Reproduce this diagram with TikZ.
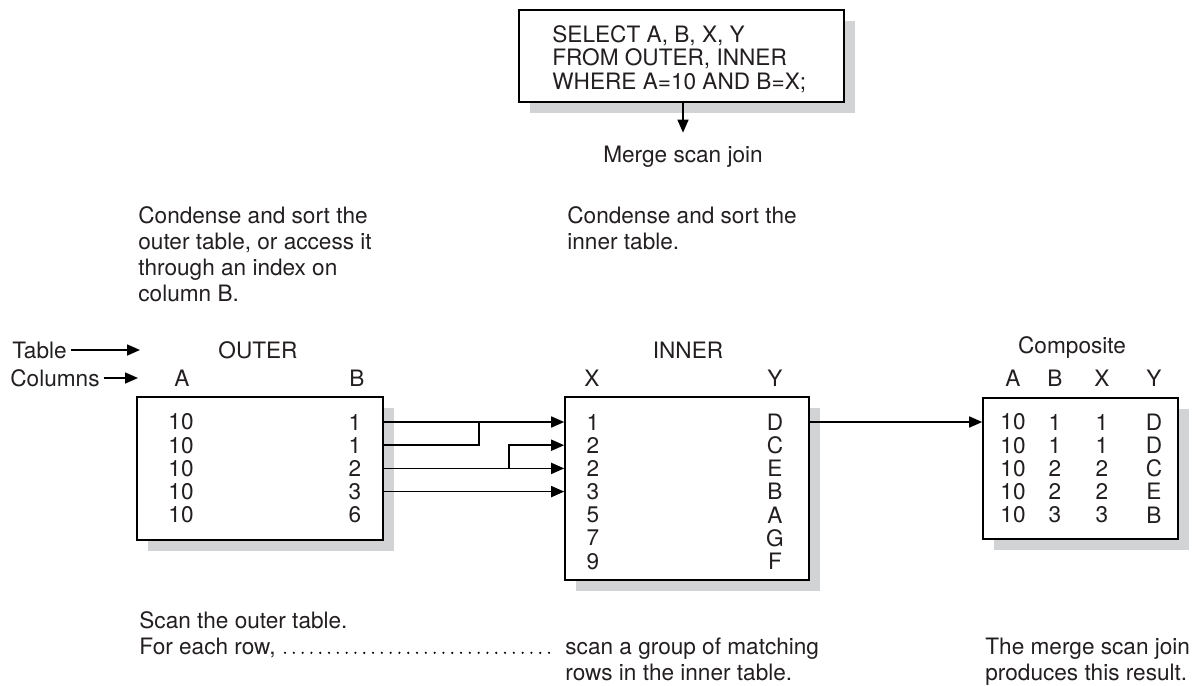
\documentclass[tikz,border=0pt]{standalone}
\usepackage{fontspec}
\setmainfont{TeX Gyre Heros}
\usetikzlibrary{arrows.meta, shadows}
\definecolor{msj-ink}{HTML}{231F20}
\definecolor{msj-shade}{HTML}{D1D3D4}

\begin{document}
\begin{tikzpicture}[x=0.5pt, y=-0.5pt, >={Triangle[length=6.5pt, width=5.5pt]},
  every node/.style={font=\fontsize{11.3}{13}\selectfont, text=msj-ink},
  tbl/.style={draw, line width=0.8pt, fill=white, inner sep=0pt,
    drop shadow={shadow xshift=5.5pt, shadow yshift=-5.5pt, fill=msj-shade, opacity=1}},
  cell/.style={inner sep=0pt},
  line/.style={inner sep=0pt, anchor=base west},
  note/.style={inner sep=0pt, anchor=north west, align=left},
  link/.style={line width=0.8pt},
  leader/.style={line width=1.2pt, line cap=round, dash pattern=on 0pt off 4.4pt}]
  \useasboundingbox (0,0) rectangle (1192,685);
  \node[tbl, minimum width=162.5pt, minimum height=46pt] (sql) at (681.5,56) {};
  \foreach \sq [count=\i] in {{SELECT A, B, X, Y},{FROM OUTER, INNER},{WHERE A=10 AND B=X;}}
    \node[line] (sql\i) at (552,{18.5+23.5*\i}) {\sq};
  \node[outer sep=3.5pt] (merge) at (683,157) {Merge scan join};
  \draw[link, ->] (merge.north |- sql.south) -- (merge.north);
  \node[note] (outernote) at (138,206.5)
    {Condense and sort the\\outer table, or access it\\through an index on\\column B.};
  \node[note] (innernote) at (567,206.5) {Condense and sort the\\inner table.};
  \node[anchor=west, inner sep=2pt] (tablelbl) at (8,350) {Table};
  \coordinate (tabletip) at (140,350);
  \draw[link, ->] (tablelbl) -- (tabletip);
  \node[anchor=west, inner sep=2pt] (collbl) at (6,378) {Columns};
  \coordinate (coltip) at (138,378);
  \draw[link, ->] (collbl) -- (coltip);
  \node[tbl, minimum width=123pt, minimum height=71.5pt] (outer) at (260,468.5) {};
  \node[tbl, minimum width=122pt, minimum height=91.5pt] (inner) at (687,488.5) {};
  \node[tbl, minimum width=97.5pt, minimum height=70.5pt] (comp) at (1080.5,468.5) {};
  \node (outerlbl) at (258,350) {OUTER};
  \node (innerlbl) at (688,350) {INNER};
  \node (complbl) at (1072,348) {Composite};
  \node[cell] (outera) at (182,378) {A};
  \node[cell] (outerb) at (357,378) {B};
  \node[cell] (innerx) at (592,378) {X};
  \node[cell] (innery) at (775,378) {Y};
  \node[cell] (compa) at (1013,378) {A};
  \node[cell] (compb) at (1055,378) {B};
  \node[cell] (compx) at (1102,378) {X};
  \node[cell] (compy) at (1154,378) {Y};
  \foreach \ob [count=\i] in {1,1,2,3,6} {
    \node[cell] (oa\i) at (181,{398.8+23.2*\i}) {10};
    \node[cell] (ob\i) at (355,{398.8+23.2*\i}) {\ob};
  }
  \foreach \ix/\iy [count=\i] in {1/D,2/C,2/E,3/B,5/A,7/G,9/F} {
    \node[cell] (ix\i) at (593,{398.8+23.2*\i}) {\ix};
    \node[cell] (iy\i) at (775,{398.8+23.2*\i}) {\iy};
  }
  \foreach \cb/\cx/\cy [count=\i] in {1/1/D,1/1/D,2/2/C,2/2/E,3/3/B} {
    \node[cell] (ca\i) at (1013,{398.8+23.2*\i}) {10};
    \node[cell] (cb\i) at (1055,{398.8+23.2*\i}) {\cb};
    \node[cell] (cx\i) at (1102,{398.8+23.2*\i}) {\cx};
    \node[cell] (cy\i) at (1154,{398.8+23.2*\i}) {\cy};
  }
  \draw[link, ->] (ob1 -| outer.east) -- (ix1 -| inner.west);
  \draw[link] (ob2 -| outer.east) -| ([xshift=47.5pt]outer.east |- ob1);
  \draw[link, ->] (ob3 -| outer.east) -- (ix3 -| inner.west);
  \draw[link, ->] ([xshift=62.5pt]outer.east |- ob3) |- (ix2 -| inner.west);
  \draw[link, ->] (ob4 -| outer.east) -- (ix4 -| inner.west);
  \draw[link, ->] (iy1 -| inner.east) -- (ca1 -| comp.west);
  \node[line] (scanouter) at (139,628) {Scan the outer table.};
  \node[line] (eachrow) at (139,654) {For each row,};
  \node[note] (scangroup) at (565,637.5) {scan a group of matching\\rows in the inner table.};
  \node[note] (result) at (985,637.5) {The merge scan join\\produces this result.};
  \draw[leader] ([xshift=4.5pt, yshift=0.6pt]eachrow.base east)
    -- ([xshift=-6pt, yshift=0.6pt]eachrow.base east -| scangroup.west);
\end{tikzpicture}
\end{document}
